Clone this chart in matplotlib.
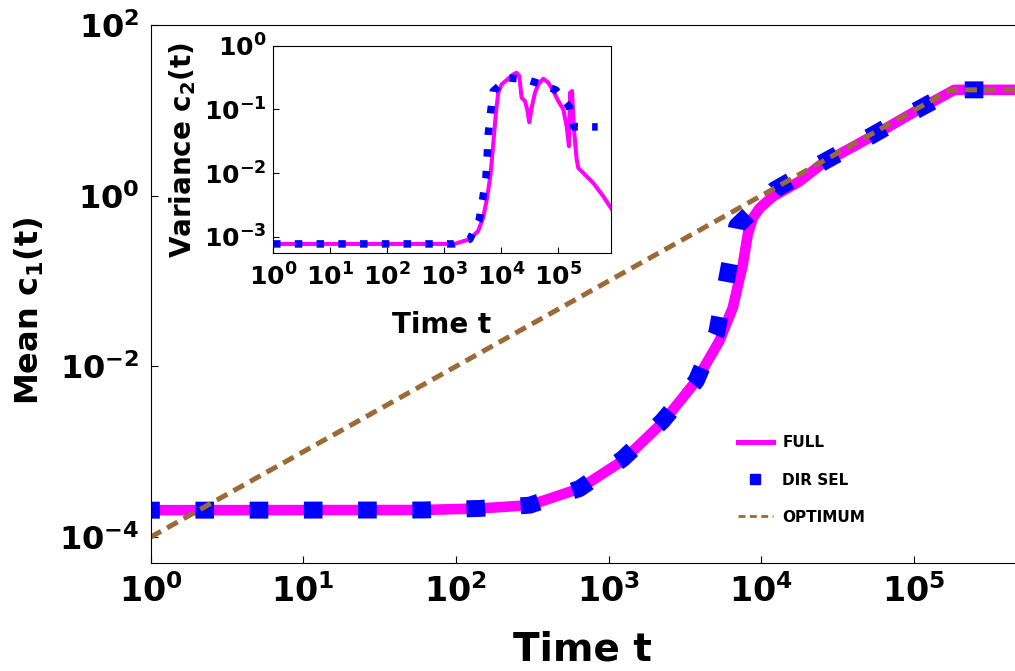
import matplotlib
matplotlib.use("Agg")
import matplotlib.pyplot as plt
from matplotlib.lines import Line2D

plt.rcParams['font.family'] = ['DejaVu Sans']
plt.rcParams['font.weight'] = 'bold'
plt.rcParams['mathtext.default'] = 'bf'

# main panel: mean c1(t)
t_full = [1, 60, 143, 305, 646, 1242, 2270, 3758, 5333, 6516, 7586, 8166, 8810,
          9772, 11912, 17783, 25119, 51286, 103750, 184000, 460000]
c1_full = [2.07e-4, 2.08e-4, 2.17e-4, 2.37e-4, 3.71e-4, 7.9e-4, 2.22e-3, 6.8e-3,
           0.020, 0.0488, 0.157, 0.351, 0.548, 0.716, 0.98, 1.47, 2.38, 4.79,
           9.9, 17.4, 17.4]

t_dir = [1, 60, 143, 305, 646, 1242, 2249, 3758, 5117, 5957, 6918, 12218, 24717,
         50350, 102300, 184000, 460000]
c1_dir = [2.07e-4, 2.08e-4, 2.17e-4, 2.37e-4, 3.71e-4, 8.3e-4, 2.28e-3, 6.8e-3,
          0.0249, 0.107, 0.441, 1.17, 2.4, 4.82, 9.86, 17.4, 17.4]

t_opt = [1, 174000, 460000]
c1_opt = [1e-4, 17.4, 17.4]

# inset: variance c2(t)
t_full_var = [1, 1500, 2818, 3945, 4831, 5675, 6501, 7244, 8054, 8851, 10139,
              12417, 16255, 18578, 20701, 22751, 26002, 28576, 30974, 34041,
              38994, 44566, 54576, 66834, 81658, 100000, 122462, 139959, 153815,
              160325, 173780, 188365, 209894, 224388, 274789, 411150, 615177,
              922571]
c2_full = [7.66e-4, 7.66e-4, 9.08e-4, 1.23e-3, 2.0e-3, 4.13e-3, 9.64e-3, 0.0287,
           0.0885, 0.183, 0.248, 0.290, 0.357, 0.379, 0.336, 0.153, 0.136, 0.1,
           0.063, 0.106, 0.183, 0.248, 0.305, 0.264, 0.195, 0.136, 0.1, 0.0546,
           0.0264, 0.183, 0.195, 0.0483, 0.0163, 0.012, 0.01, 6.95e-3, 4.29e-3,
           2.48e-3]

t_dir_var = [1, 1500, 2818, 4111, 4710, 5383, 5675, 5916, 6501, 7244, 13274,
             29785, 51050, 90991, 155955, 188365, 490000]
c2_dir = [7.66e-4, 7.66e-4, 9.08e-4, 1.83e-3, 3.79e-3, 8.34e-3, 0.0183, 0.0403,
          0.0885, 0.195, 0.316, 0.290, 0.248, 0.202, 0.110, 0.0532, 0.0532]

magenta = '#ff00ff'
blue = '#0000ff'
brown = '#9c6a37'

fig = plt.figure(figsize=(10.15, 6.71), dpi=100)
ax = fig.add_axes([0.1483, 0.1605, 0.8517, 0.8022])

ax.plot(t_full, c1_full, color=magenta, lw=7.6, solid_capstyle='butt')
ax.plot(t_dir, c1_dir, color=blue, lw=12.2, linestyle=(0.55, (1.1, 2.1)),
        dash_capstyle='butt')
ax.plot(t_opt, c1_opt, color=brown, lw=3.6, linestyle=(0, (2.4, 1.4)))

ax.set_xscale('log')
ax.set_yscale('log')
ax.set_xlim(1, 4.6e5)
ax.set_ylim(4.94e-5, 94.5)
ax.set_xticks([1e0, 1e1, 1e2, 1e3, 1e4, 1e5])
ax.set_yticks([1e-4, 1e-2, 1e0, 1e2])
ax.minorticks_off()
ax.tick_params(direction='in', length=5, width=0.8)
ax.tick_params(axis='x', labelsize=24, pad=8)
ax.tick_params(axis='y', labelsize=23, pad=8)
ax.spines['right'].set_visible(False)
ax.set_xlabel('Time t', fontsize=28, fontweight='bold')
ax.set_ylabel('Mean $c_1(t)$', fontsize=23, fontweight='bold')
ax.xaxis.set_label_coords(0.5, -0.125)
ax.yaxis.set_label_coords(-0.121, 0.47)

handles = [
    Line2D([], [], color=magenta, lw=3.6),
    Line2D([], [], color=blue, marker='s', markersize=7, linestyle='none'),
    Line2D([], [], color=brown, lw=2.0, linestyle=(0, (2.5, 1.6))),
]
ax.legend(handles, ['FULL', 'DIR SEL', 'OPTIMUM'], loc='upper left',
          bbox_to_anchor=(0.727, 0.351), bbox_transform=fig.transFigure,
          frameon=False, prop={'size': 11, 'weight': 'bold'},
          handlelength=2.3, handletextpad=0.6, labelspacing=1.45,
          borderpad=0, borderaxespad=0)

# inset
axin = fig.add_axes([0.269, 0.6225, 0.3327, 0.309])
axin.plot(t_full_var, c2_full, color=magenta, lw=2.9)
axin.plot(t_dir_var, c2_dir, color=blue, lw=5.4, linestyle=(0, (1, 1.9)),
          dash_capstyle='butt')
axin.set_xscale('log')
axin.set_yscale('log')
axin.set_xlim(1, 8.3e5)
axin.set_ylim(5.45e-4, 1.0)
axin.set_xticks([1e0, 1e1, 1e2, 1e3, 1e4, 1e5])
axin.set_yticks([1e-3, 1e-2, 1e-1, 1e0])
axin.minorticks_off()
axin.tick_params(direction='in', length=4, width=0.8, labelsize=18)
axin.tick_params(axis='x', pad=7)
axin.tick_params(axis='y', pad=5)
axin.set_xlabel('Time t', fontsize=20, fontweight='bold', labelpad=15)
axin.set_ylabel('Variance $c_2(t)$', fontsize=20, fontweight='bold')

fig.savefig('out.png', dpi=100)
